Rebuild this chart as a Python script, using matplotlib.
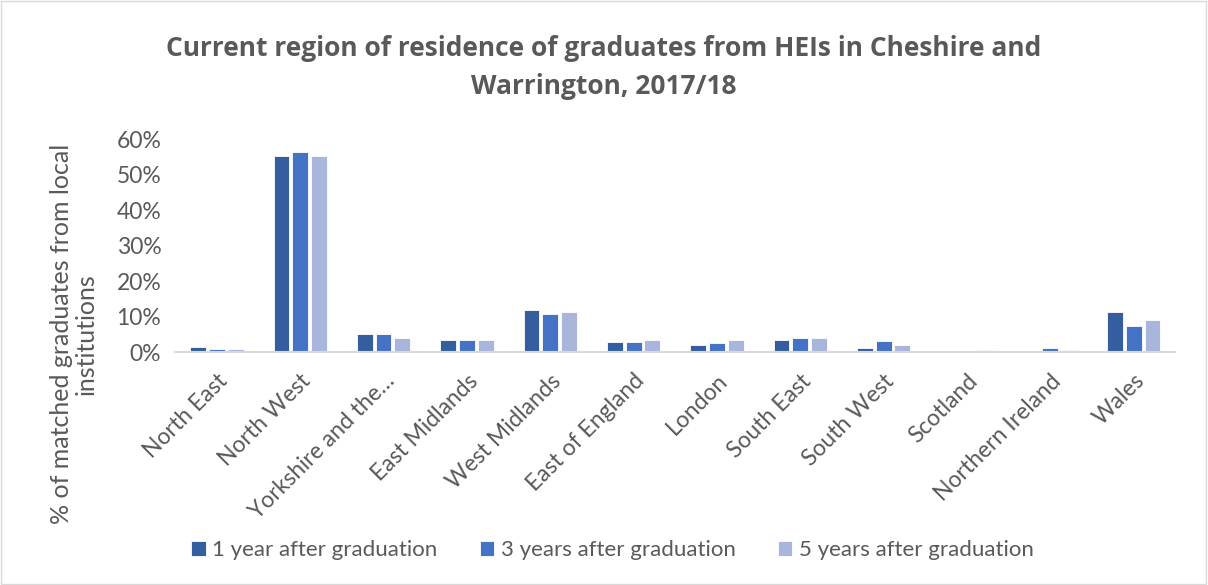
import matplotlib.pyplot as plt
import numpy as np
from matplotlib.ticker import PercentFormatter, MultipleLocator
from matplotlib.patches import Rectangle

regions = ["North East", "North West", "Yorkshire and the\u2026", "East Midlands",
           "West Midlands", "East of England", "London", "South East",
           "South West", "Scotland", "Northern Ireland", "Wales"]
series_names = ["1 year after graduation", "3 years after graduation",
                "5 years after graduation"]
one_year = [1.4, 55.3, 5.2, 3.5, 11.9, 2.9, 1.9, 3.4, 1.3, 0.0, 0.0, 11.2]
three_years = [1.0, 56.4, 5.2, 3.5, 10.7, 2.8, 2.6, 4.1, 3.1, 0.0, 1.2, 7.4]
five_years = [1.0, 55.4, 4.1, 3.5, 11.2, 3.5, 3.5, 4.1, 2.0, 0.5, 0.6, 9.2]
colors = ["#345EA0", "#4472C4", "#A8B6DB"]

plt.rcParams['font.family'] = ['Lato', 'DejaVu Sans']
text_color = "#595959"

fig = plt.figure(figsize=(12.08, 5.85), dpi=100)
ax = fig.add_axes([0.145, 0.398, 0.828, 0.364])

x = np.arange(len(regions))
width = 0.19
step = 0.225
for i, (vals, name) in enumerate(zip([one_year, three_years, five_years], series_names)):
    ax.bar(x + (i - 1) * step, np.array(vals) / 100, width, color=colors[i],
           label=name, edgecolor="white", linewidth=0.6)

ax.set_xlim(-0.5, len(regions) - 0.5)
ax.set_ylim(0, 0.6)
ax.yaxis.set_major_locator(MultipleLocator(0.1))
ax.yaxis.set_major_formatter(PercentFormatter(1.0, decimals=0))
ax.set_xticks(x)
ax.set_xticklabels(regions, rotation=45, ha="right", rotation_mode="anchor")
ax.tick_params(axis="both", length=0, colors=text_color)
ax.tick_params(axis="x", pad=13, labelsize=16.5)
ax.tick_params(axis="y", pad=10, labelsize=16.5)
for side in ["top", "right", "left"]:
    ax.spines[side].set_visible(False)
ax.spines["bottom"].set_color("#D9D9D9")
ax.spines["bottom"].set_linewidth(1.5)

fig.text(0.061, 0.429, "% of matched graduates from local\ninstitutions", rotation=90,
         ha="center", va="center", multialignment="center", fontsize=18,
         color=text_color, linespacing=1.1)

fig.suptitle("Current region of residence of graduates from HEIs in Cheshire and\nWarrington, 2017/18",
             x=0.5, y=0.94, fontsize=19, fontweight="bold", color=text_color,
             linespacing=1.5, family=["Open Sans", "DejaVu Sans"])

leg = fig.legend(loc="center", bbox_to_anchor=(0.507, 0.06), ncol=3, frameon=False,
                 fontsize=16, handlelength=0.65, handleheight=0.65,
                 handletextpad=0.3, columnspacing=1.9)
for t in leg.get_texts():
    t.set_color(text_color)

fig.patches.append(Rectangle((0.001, 0.001), 0.997, 0.997, transform=fig.transFigure,
                             fill=False, edgecolor="#D9D9D9", linewidth=1))

fig.savefig("out.png", dpi=100)
